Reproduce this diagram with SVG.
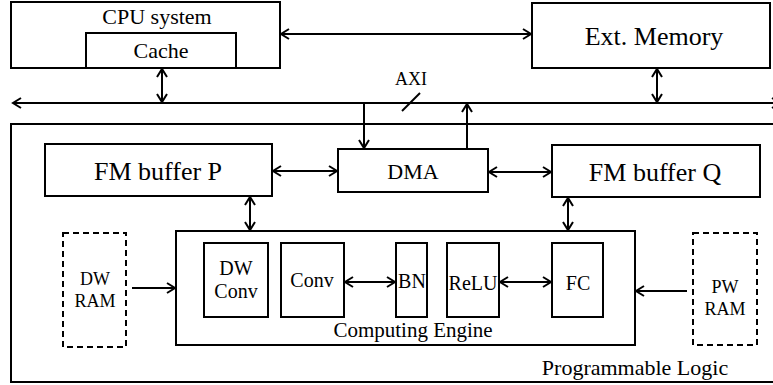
<svg xmlns="http://www.w3.org/2000/svg" width="773" height="385" viewBox="0 0 773 385" font-family="'Liberation Serif', 'Times New Roman', 'DejaVu Serif', serif">
<style>
.box{fill:#fff;stroke:#000;stroke-width:2}
.dash{fill:#fff;stroke:#000;stroke-width:2;stroke-dasharray:6,4}
.ln{stroke:#000;stroke-width:2;fill:none}
text{font-family:'Liberation Serif','Times New Roman','DejaVu Serif',serif;fill:#000;text-anchor:middle}
</style>
<defs>
<marker id="ah" viewBox="-10 -7 12 14" refX="0" refY="0" markerWidth="12" markerHeight="14" markerUnits="userSpaceOnUse" orient="auto-start-reverse">
<path d="M-8,-5 L0,0 L-8,5" fill="none" stroke="#000" stroke-width="2"/>
</marker>
</defs>
<rect width="773" height="385" fill="#fff"/>
<g id="pl"><rect class="box" x="11" y="124" width="770" height="258"/><text x="635" y="375" font-size="22">Programmable Logic</text></g>
<g id="cpu"><rect class="box" x="11" y="2" width="269" height="66"/><text x="157" y="24" font-size="22">CPU system</text></g>
<g id="cache"><rect class="box" x="86" y="33" width="150" height="35"/><text x="161" y="58" font-size="22">Cache</text></g>
<g id="extmem"><rect class="box" x="532" y="3" width="238" height="65"/><text x="654" y="45" font-size="26">Ext. Memory</text></g>
<g id="axi"><text x="411" y="85" font-size="18">AXI</text><line class="ln" x1="402" y1="111" x2="420" y2="93" stroke-width="1.5"/></g>
<g id="fmp"><rect class="box" x="45" y="144" width="227" height="52"/><text x="158" y="180" font-size="26">FM buffer P</text></g>
<g id="dma"><rect class="box" x="338" y="149" width="150" height="43"/><text x="413" y="179" font-size="22">DMA</text></g>
<g id="fmq"><rect class="box" x="552" y="145" width="208" height="52"/><text x="655" y="181" font-size="26">FM buffer Q</text></g>
<g id="ce"><rect class="box" x="176" y="231" width="459" height="114"/><text x="413" y="337" font-size="21">Computing Engine</text></g>
<g id="dwconv"><rect class="box" x="204" y="243" width="64" height="74"/><text x="236" y="275" font-size="20">DW</text><text x="236" y="298" font-size="20">Conv</text></g>
<g id="conv"><rect class="box" x="281" y="243" width="63" height="74"/><text x="312" y="287" font-size="20">Conv</text></g>
<g id="bn"><rect class="box" x="396" y="243" width="31" height="74"/><text x="412" y="288" font-size="20">BN</text></g>
<g id="relu"><rect class="box" x="447" y="243" width="52" height="74"/><text x="473" y="290" font-size="20">ReLU</text></g>
<g id="fc"><rect class="box" x="552" y="243" width="51" height="74"/><text x="578" y="290" font-size="20">FC</text></g>
<g id="dwram"><rect class="dash" x="63" y="233" width="63" height="114"/><text x="95" y="285" font-size="18">DW</text><text x="95" y="307" font-size="18">RAM</text></g>
<g id="pwram"><rect class="dash" x="693" y="233" width="64" height="112"/><text x="725" y="293" font-size="18">PW</text><text x="725" y="315" font-size="18">RAM</text></g>
<g id="connectors">
<line class="ln" x1="13" y1="103" x2="780" y2="103" marker-start="url(#ah)" marker-end="url(#ah)"/>
<line class="ln" x1="281" y1="34" x2="531" y2="34" marker-start="url(#ah)" marker-end="url(#ah)"/>
<line class="ln" x1="162" y1="69" x2="162" y2="102" marker-start="url(#ah)" marker-end="url(#ah)"/>
<line class="ln" x1="657" y1="69" x2="657" y2="102" marker-start="url(#ah)" marker-end="url(#ah)"/>
<line class="ln" x1="364" y1="103" x2="364" y2="148" marker-end="url(#ah)"/>
<line class="ln" x1="467" y1="149" x2="467" y2="104" marker-end="url(#ah)"/>
<line class="ln" x1="273" y1="171" x2="337" y2="171" marker-start="url(#ah)" marker-end="url(#ah)"/>
<line class="ln" x1="489" y1="172" x2="551" y2="172" marker-start="url(#ah)" marker-end="url(#ah)"/>
<line class="ln" x1="250" y1="197" x2="250" y2="230" marker-start="url(#ah)" marker-end="url(#ah)"/>
<line class="ln" x1="568" y1="198" x2="568" y2="230" marker-start="url(#ah)" marker-end="url(#ah)"/>
<line class="ln" x1="345" y1="282" x2="395" y2="282" marker-start="url(#ah)" marker-end="url(#ah)"/>
<line class="ln" x1="500" y1="282" x2="551" y2="282" marker-start="url(#ah)" marker-end="url(#ah)"/>
<line class="ln" x1="132" y1="288" x2="175" y2="288" marker-end="url(#ah)"/>
<line class="ln" x1="687" y1="291" x2="636" y2="291" marker-end="url(#ah)"/>
</g>
</svg>
